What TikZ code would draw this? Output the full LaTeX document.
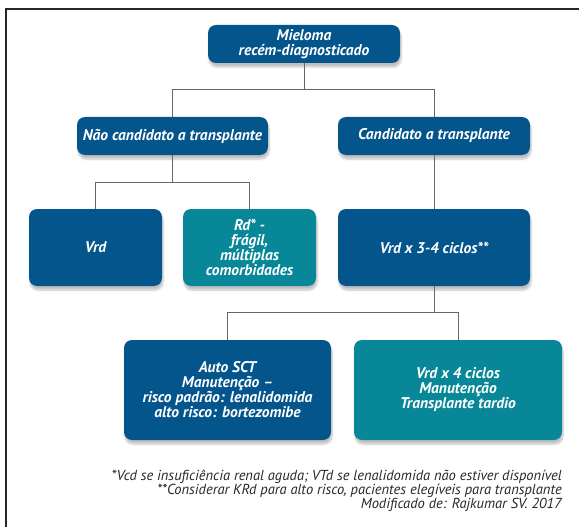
\documentclass[tikz,border=0pt]{standalone}
\usepackage{fontspec}
\setmainfont{PT Sans}
\usetikzlibrary{shadows.blur}
\setlength{\lineskiplimit}{-8pt}
\definecolor{azul}{RGB}{4,85,139}
\definecolor{verde}{RGB}{8,135,152}
\tikzset{
  caixa/.style={rectangle, rounded corners=8pt, text=white, align=center,
    inner sep=2pt, font=\fontsize{15.5}{15}\selectfont\bfseries\itshape,
    blur shadow={shadow xshift=1pt, shadow yshift=-4pt, shadow blur steps=6, shadow opacity=25}},
  azulbox/.style={caixa, fill=azul},
  verdebox/.style={caixa, fill=verde},
  conn/.style={draw=black!60, line width=0.9pt}
}
\begin{document}
\begin{tikzpicture}[x=1pt,y=-1pt]
\useasboundingbox (0,0) rectangle (579,527);
\draw[line width=1.3pt, black!85] (6,527)--(6,9)--(579,9);
% caixas
\node[azulbox, minimum width=192pt, minimum height=38pt] (mieloma) at (304,44) {Mieloma\\rec\'em-diagnosticado};
\node[azulbox, minimum width=191pt, minimum height=38pt] (nao) at (172.5,136) {Não candidato a transplante};
\node[azulbox, minimum width=192pt, minimum height=38pt] (cand) at (434,136) {Candidato a transplante};
\node[azulbox, minimum width=133pt, minimum height=77pt] (vrd) at (95.5,247.5) {Vrd};
\node[verdebox, minimum width=133pt, minimum height=77pt] (rd) at (249.5,247.5) {Rd* -\\frágil,\\múltiplas\\comorbidades};
\node[azulbox, minimum width=192pt, minimum height=77pt] (ciclos) at (434,247.5) {Vrd x 3-4 ciclos**};
\node[azulbox, minimum width=207pt, minimum height=100pt] (auto) at (227.5,390) {Auto SCT\\Manutenção --\\risco padrão: lenalidomida\\alto risco: bortezomibe};
\node[verdebox, minimum width=208pt, minimum height=100pt] (tardio) at (458,390) {Vrd x 4 ciclos\\Manutenção\\Transplante tardio};
% ligacoes
\draw[conn] (mieloma.south)--++(0,26)-|(nao.north);
\draw[conn] (mieloma.south)--++(0,26)-|(cand.north);
\draw[conn] (nao.south)--++(0,27)-|(vrd.north);
\draw[conn] (nao.south)--++(0,27)-|(rd.north);
\draw[conn] (cand.south)--(ciclos.north);
\draw[conn] (ciclos.south)--++(0,26)-|(auto.north);
\draw[conn] (ciclos.south)--++(0,26)-|(tardio.north);
% nota
\node[anchor=east, align=right, font=\fontsize{14.5}{14}\selectfont\itshape, text=black!85, inner sep=0pt] (nota) at (562,491)
{*Vcd se insuficiência renal aguda; VTd se lenalidomida não estiver disponível\\
**Considerar KRd para alto risco, pacientes elegíveis para transplante\\
Modificado de: Rajkumar SV. 2017};
\end{tikzpicture}
\end{document}
